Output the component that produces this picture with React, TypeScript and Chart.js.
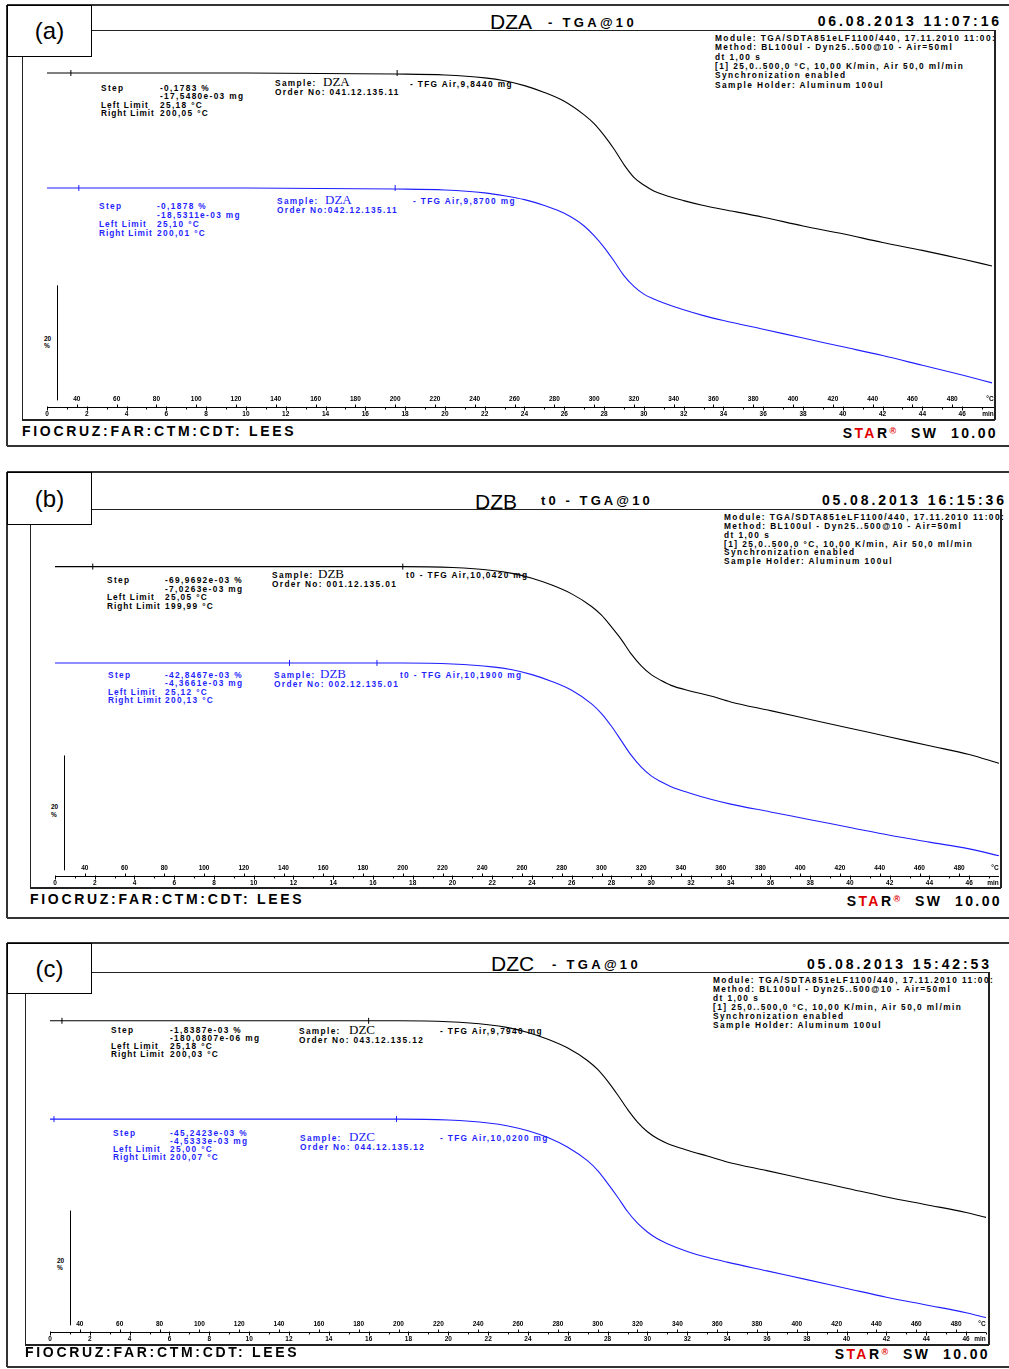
import React, { useEffect, useRef } from "react";
import { Chart, registerables } from "chart.js";
Chart.register(...registerables);

// ---------- data (time in min, mass in %) ----------
const timeAB = [0, 10, 17.5, 20, 22, 23, 24, 25, 26, 27, 27.5, 28, 28.5, 29, 29.5, 30, 30.5, 31, 32, 33, 34, 36, 38, 40, 42, 44, 46, 47.5];
const timeC = [0, 10, 17.5, 20, 22, 23, 24, 25, 26, 27, 27.5, 28, 28.5, 29, 29.5, 30, 30.5, 31, 32, 33, 34, 36, 38, 40, 42, 44, 46, 47];

const dzaBlack = [100, 100, 99.83, 99.66, 99.15, 98.64, 97.8, 96.61, 95.08, 92.71, 91.19, 89.15, 86.78, 84.07, 81.86, 80.51, 79.49, 78.81, 77.8, 76.95, 76.27, 74.92, 73.39, 72.03, 70.51, 69.15, 67.63, 66.44];
const dzaBlue = [80.0, 80.0, 79.83, 79.66, 79.15, 78.64, 77.97, 76.95, 75.59, 73.39, 71.69, 69.66, 67.29, 64.75, 62.88, 61.53, 60.68, 60.0, 58.81, 57.8, 56.95, 55.42, 53.9, 52.37, 50.85, 49.15, 47.46, 46.1];
const dzbBlack = [100, 100, 100, 99.83, 99.32, 98.81, 97.97, 96.78, 95.25, 93.05, 91.53, 89.49, 87.29, 84.75, 82.71, 81.19, 80.17, 79.32, 78.31, 77.46, 76.44, 74.92, 73.39, 71.86, 70.34, 68.81, 67.29, 65.76];
const dzbBlue = [83.22, 83.22, 83.22, 83.05, 82.54, 82.03, 81.19, 80.0, 78.47, 76.1, 74.41, 72.2, 69.66, 67.12, 65.08, 63.56, 62.54, 61.69, 60.51, 59.49, 58.64, 57.29, 55.93, 54.58, 53.22, 52.03, 50.85, 49.66];
const dzcBlack = [100, 100, 100, 99.83, 99.32, 98.81, 97.97, 96.78, 95.25, 93.05, 91.53, 89.49, 87.12, 84.58, 82.37, 80.68, 79.49, 78.64, 77.46, 76.44, 75.42, 73.9, 72.37, 70.85, 69.32, 67.97, 66.61, 65.76];
const dzcBlue = [82.88, 82.88, 82.88, 82.71, 82.2, 81.69, 80.85, 79.66, 77.97, 75.59, 73.9, 71.69, 69.32, 66.78, 64.75, 63.22, 62.03, 61.19, 59.83, 58.81, 57.97, 56.44, 54.92, 53.39, 51.86, 50.51, 49.15, 48.31];

// limit markers on the curves (time, %)
const dzaBlackMarkT = [1.2, 17.6];
const dzaBlackMarkV = [100, 100];
const dzaBlueMarkT = [1.6, 17.5];
const dzaBlueMarkV = [80.0, 80.0];
const dzbBlackMarkT = [1.9, 17.5];
const dzbBlackMarkV = [100, 100];
const dzbBlueMarkT = [11.8, 16.2];
const dzbBlueMarkV = [83.22, 83.22];
const dzcBlackMarkT = [0.6, 16.0];
const dzcBlackMarkV = [100, 100];
const dzcBlueMarkT = [0.2, 17.4];
const dzcBlueMarkV = [82.88, 82.88];

// axis ticks
const timeMajorTicks = [0, 2, 4, 6, 8, 10, 12, 14, 16, 18, 20, 22, 24, 26, 28, 30, 32, 34, 36, 38, 40, 42, 44, 46];
const timeMinorTicks = [1, 3, 5, 7, 9, 11, 13, 15, 17, 19, 21, 23, 25, 27, 29, 31, 33, 35, 37, 39, 41, 43, 45, 47];
const tempTicks = [40, 60, 80, 100, 120, 140, 160, 180, 200, 220, 240, 260, 280, 300, 320, 340, 360, 380, 400, 420, 440, 460, 480];
const scaleBarSpan = 20; // %

// ---------- layout ----------
const PAGE_W = 1009;
const PAGE_H = 1369;
const K = 5.9; // px per %
const SANS = "'Liberation Sans', Arial, Helvetica, sans-serif";
const SERIF = "'Liberation Serif', 'Times New Roman', serif";
const BLUE = "#1f1fff";

const moduleLines = [
  "Module: TGA/SDTA851eLF1100/440, 17.11.2010 11:00:",
  "Method: BL100ul - Dyn25..500@10 - Air=50ml",
  "dt 1,00 s",
  "[1] 25,0..500,0 °C, 10,00 K/min, Air 50,0 ml/min",
  "Synchronization enabled",
  "Sample Holder: Aluminum 100ul",
];

type Curve = { t: number[]; v: number[]; mt: number[]; mv: number[] };

type Cfg = {
  label: string;
  top: number; bottom: number; headerY: number; labelBottom: number;
  innerLeft: number; innerRight: number; innerBottom: number;
  x0: number; x1: number; tMax: number; axisY: number; flatPx: number;
  barT: number; barLow: number;
  black: Curve; blue: Curve;
};

// scale bar (y indicator) and the dual time / temperature axis, positioned through the chart scales
const tgaAxesPlugin = {
  id: "tgaAxes",
  afterDraw(chart: any, _a: any, opts: any) {
    const xs = chart.scales.x;
    const ts = chart.scales.temp;
    const ys = chart.scales.y;
    const ctx = chart.ctx;
    ctx.save();
    ctx.strokeStyle = "#000";
    ctx.fillStyle = "#000";
    ctx.lineWidth = 1;
    // scale bar
    const bx = Math.round(xs.getPixelForValue(opts.barT)) + 0.5;
    ctx.beginPath();
    ctx.moveTo(bx, ys.getPixelForValue(opts.barLow));
    ctx.lineTo(bx, ys.getPixelForValue(opts.barLow + opts.span));
    ctx.stroke();
    // axis line
    const ay = Math.round(opts.axisY) + 0.5;
    const xStart = xs.getPixelForValue(0);
    const xEnd = xs.getPixelForValue(opts.tMax);
    ctx.beginPath();
    ctx.moveTo(xStart, ay);
    ctx.lineTo(xEnd, ay);
    ctx.stroke();
    ctx.font = `bold 6.5px ${SANS}`;
    ctx.textAlign = "center";
    // time ticks + labels (below)
    ctx.textBaseline = "top";
    ctx.beginPath();
    for (const v of timeMajorTicks) {
      const px = Math.round(xs.getPixelForValue(v)) + 0.5;
      ctx.moveTo(px, ay - 1); ctx.lineTo(px, ay + 3);
    }
    for (const v of timeMinorTicks) {
      if (v > opts.tMax) continue;
      const px = Math.round(xs.getPixelForValue(v)) + 0.5;
      ctx.moveTo(px, ay); ctx.lineTo(px, ay + 2);
    }
    ctx.stroke();
    for (const v of timeMajorTicks) ctx.fillText(String(v), xs.getPixelForValue(v), ay + 3.5);
    ctx.fillText("min", xEnd - 6, ay + 3.5);
    // temperature ticks + labels (above)
    ctx.textBaseline = "bottom";
    ctx.beginPath();
    for (const T of tempTicks) {
      const px = Math.round(ts.getPixelForValue(T)) + 0.5;
      ctx.moveTo(px, ay - 3); ctx.lineTo(px, ay);
    }
    ctx.stroke();
    for (const T of tempTicks) ctx.fillText(String(T), ts.getPixelForValue(T), ay - 5);
    ctx.fillText("°C", xEnd - 4, ay - 5);
    ctx.restore();
  },
};

function TgaChart({ cfg }: { cfg: Cfg }) {
  const ref = useRef<HTMLCanvasElement | null>(null);
  const h = cfg.innerBottom - cfg.headerY;
  useEffect(() => {
    if (!ref.current) return;
    const yMax = 100 + (cfg.flatPx - cfg.headerY) / K;
    const yMin = 100 - (cfg.innerBottom - cfg.flatPx) / K;
    const tempMax = 25 + 10 * cfg.tMax;
    const pts = (c: Curve) => c.t.map((t, i) => ({ x: t, y: c.v[i] }));
    const mpts = (c: Curve) => c.mt.map((t, i) => ({ x: t, y: c.mv[i] }));
    const lineDs = (c: Curve, col: string) => ({
      data: pts(c), borderColor: col, borderWidth: 1.1, pointRadius: 0,
      cubicInterpolationMode: "monotone", clip: false, fill: false,
    });
    const markDs = (c: Curve, col: string) => ({
      data: mpts(c), showLine: false, pointStyle: "line", pointRotation: 90,
      pointRadius: 3, pointBorderWidth: 1, pointBorderColor: col, borderColor: col, clip: false,
    });
    const chart = new Chart(ref.current, {
      type: "line",
      data: {
        datasets: [
          lineDs(cfg.black, "#000"), lineDs(cfg.blue, BLUE),
          markDs(cfg.black, "#000"), markDs(cfg.blue, BLUE),
        ] as any,
      },
      options: {
        animation: false,
        responsive: false,
        devicePixelRatio: 1,
        events: [],
        layout: { padding: { left: cfg.x0, right: PAGE_W - cfg.x1, top: 0, bottom: 0 } },
        plugins: {
          legend: { display: false },
          tooltip: { enabled: false },
          tgaAxes: {
            barT: cfg.barT, barLow: cfg.barLow, span: scaleBarSpan,
            axisY: cfg.axisY - cfg.headerY, tMax: cfg.tMax,
          },
        } as any,
        scales: {
          x: { type: "linear", display: false, min: 0, max: cfg.tMax },
          temp: { type: "linear", position: "bottom", display: false, min: 25, max: tempMax },
          y: { type: "linear", display: false, min: yMin, max: yMax },
        } as any,
      },
      plugins: [tgaAxesPlugin],
    });
    return () => chart.destroy();
  }, [cfg]);
  return (
    <canvas
      ref={ref}
      width={PAGE_W}
      height={h}
      style={{ position: "absolute", left: 0, top: cfg.headerY, width: PAGE_W, height: h }}
    />
  );
}

function Txt(p: { x?: number; y: number; s: number; t: React.ReactNode; w?: any; c?: string; ls?: number; f?: string; right?: number }) {
  const style: React.CSSProperties = {
    position: "absolute", top: p.y - p.s / 2, fontSize: p.s, lineHeight: `${p.s}px`,
    fontWeight: p.w ?? "bold", color: p.c ?? "#000", letterSpacing: p.ls ?? 0,
    fontFamily: p.f ?? SANS, whiteSpace: "pre",
  };
  if (p.right !== undefined) { style.right = PAGE_W - p.right; style.textAlign = "right"; }
  else style.left = p.x;
  return <div style={style}>{p.t}</div>;
}

function HLine({ x1, x2, y, w = 1, c = "#222" }: any) {
  return <div style={{ position: "absolute", left: x1, top: y - w / 2, width: x2 - x1, height: w, background: c }} />;
}
function VLine({ x, y1, y2, w = 1, c = "#222" }: any) {
  return <div style={{ position: "absolute", left: x - w / 2, top: y1, width: w, height: y2 - y1, background: c }} />;
}

const SM = 8.3; // small annotation font
const SLS = 1.35;

function StepBlock({ x, xv, y, dy, vals, c }: any) {
  return (
    <>
      <Txt x={x} y={y} s={SM} ls={SLS} c={c} t="Step" />
      <Txt x={xv} y={y} s={SM} ls={SLS} c={c} t={vals[0]} />
      <Txt x={xv} y={y + dy} s={SM} ls={SLS} c={c} t={vals[1]} />
      <Txt x={x} y={y + 2 * dy} s={SM} ls={SLS - 0.3} c={c} t="Left Limit" />
      <Txt x={xv} y={y + 2 * dy} s={SM} ls={SLS} c={c} t={vals[2]} />
      <Txt x={x} y={y + 3 * dy} s={SM} ls={SLS - 0.4} c={c} t="Right Limit" />
      <Txt x={xv} y={y + 3 * dy} s={SM} ls={SLS} c={c} t={vals[3]} />
    </>
  );
}

function SampleBlock({ x, y, name, order, c, nx }: any) {
  return (
    <>
      <Txt x={x} y={y} s={SM} ls={SLS} c={c} t="Sample:" />
      <Txt x={x + (nx ?? 48)} y={y - 2} s={13} w="normal" f={SERIF} c={c} t={name} />
      <Txt x={x} y={y + 9} s={SM} ls={SLS} c={c} t={order} />
    </>
  );
}

function Frame({ cfg }: { cfg: Cfg }) {
  return (
    <>
      <HLine x1={7} x2={PAGE_W} y={cfg.top} w={1.5} c="#333" />
      <HLine x1={7} x2={PAGE_W} y={cfg.bottom} w={1.5} c="#333" />
      <VLine x={7} y1={cfg.top} y2={cfg.bottom} w={1.5} c="#333" />
      <HLine x1={92} x2={cfg.innerRight} y={cfg.headerY} w={1} />
      <VLine x={cfg.innerLeft} y1={cfg.labelBottom} y2={cfg.innerBottom} w={1} />
      <HLine x1={cfg.innerLeft} x2={cfg.innerRight} y={cfg.innerBottom} w={1.2} />
      <VLine x={cfg.innerRight} y1={cfg.headerY} y2={cfg.innerBottom} w={1.2} />
      <div style={{
        position: "absolute", left: 7, top: cfg.top, width: 85, height: cfg.labelBottom - cfg.top,
        boxSizing: "border-box", border: "1.5px solid #000", background: "#fff",
        display: "flex", alignItems: "center", justifyContent: "center",
        fontFamily: SANS, fontSize: 24, color: "#000",
      }}>{cfg.label}</div>
    </>
  );
}

function ModuleBlock({ x, y, lh }: any) {
  return <>{moduleLines.map((l, i) => <Txt key={i} x={x} y={y + i * lh} s={8.3} ls={1.45} t={l} />)}</>;
}

function Star({ right, y }: any) {
  return (
    <Txt right={right} y={y} s={14} ls={2.4} t={
      <>S<span style={{ color: "#e00000" }}>TA</span>R<span style={{ color: "#e00000", fontSize: 9, verticalAlign: "4px" }}>®</span>  SW  10.00</>
    } />
  );
}

const cfgA: Cfg = {
  label: "(a)", top: 5, bottom: 446, headerY: 30, labelBottom: 57,
  innerLeft: 22, innerRight: 995, innerBottom: 420,
  x0: 47, x1: 994, tMax: 47.6, axisY: 407, flatPx: 69,
  barT: 0.5, barLow: 43.05,
  black: { t: timeAB, v: dzaBlack, mt: dzaBlackMarkT, mv: dzaBlackMarkV },
  blue: { t: timeAB, v: dzaBlue, mt: dzaBlueMarkT, mv: dzaBlueMarkV },
};
const cfgB: Cfg = {
  label: "(b)", top: 472, bottom: 918, headerY: 509, labelBottom: 525,
  innerLeft: 30, innerRight: 1001, innerBottom: 888,
  x0: 55, x1: 999, tMax: 47.5, axisY: 876, flatPx: 563,
  barT: 0.45, barLow: 47.12,
  black: { t: timeAB, v: dzbBlack, mt: dzbBlackMarkT, mv: dzbBlackMarkV },
  blue: { t: timeAB, v: dzbBlue, mt: dzbBlueMarkT, mv: dzbBlueMarkV },
};
const cfgC: Cfg = {
  label: "(c)", top: 943, bottom: 1367, headerY: 972, labelBottom: 994,
  innerLeft: 25, innerRight: 989, innerBottom: 1345,
  x0: 50, x1: 986, tMax: 47.0, axisY: 1332, flatPx: 1017,
  barT: 1.0, barLow: 46.95,
  black: { t: timeC, v: dzcBlack, mt: dzcBlackMarkT, mv: dzcBlackMarkV },
  blue: { t: timeC, v: dzcBlue, mt: dzcBlueMarkT, mv: dzcBlueMarkV },
};

export default function App() {
  return (
    <div style={{ position: "relative", width: PAGE_W, height: PAGE_H, background: "#fff", overflow: "hidden" }}>
      <style>{`body{margin:0;background:#fff}`}</style>

      {/* ---------- (a) ---------- */}
      <Frame cfg={cfgA} />
      <Txt x={490} y={21} s={21} w="normal" t="DZA" />
      <Txt x={548} y={22} s={13} ls={3.3} t="- TGA@10" />
      <Txt right={1002} y={21} s={14} ls={2.9} t="06.08.2013 11:07:16" />
      <ModuleBlock x={715} y={38} lh={9.4} />
      <StepBlock x={101} xv={160} y={88} dy={8.4} c="#000" vals={["-0,1783 %", "-17,5480e-03 mg", "25,18 °C", "200,05 °C"]} />
      <SampleBlock x={275} y={83} name="DZA" order="Order No: 041.12.135.11" c="#000" />
      <Txt x={410} y={84} s={SM} ls={SLS} t="- TFG Air,9,8440 mg" />
      <StepBlock x={99} xv={157} y={206} dy={9} c={BLUE} vals={["-0,1878 %", "-18,5311e-03 mg", "25,10 °C", "200,01 °C"]} />
      <SampleBlock x={277} y={201} name="DZA" order="Order No:042.12.135.11" c={BLUE} />
      <Txt x={413} y={201} s={SM} ls={SLS} c={BLUE} t="- TFG Air,9,8700 mg" />
      <Txt x={44} y={339} s={6.5} t="20" />
      <Txt x={44} y={346} s={6.5} t="%" />
      <TgaChart cfg={cfgA} />
      <Txt x={22} y={431} s={14} ls={2.7} t="FIOCRUZ:FAR:CTM:CDT: LEES" />
      <Star right={998} y={431} />

      {/* ---------- (b) ---------- */}
      <Frame cfg={cfgB} />
      <Txt x={475} y={501} s={21} w="normal" t="DZB" />
      <Txt x={541} y={500} s={13} ls={3.1} t="t0 - TGA@10" />
      <Txt right={1007} y={500} s={14} ls={2.9} t="05.08.2013 16:15:36" />
      <ModuleBlock x={724} y={517} lh={8.9} />
      <StepBlock x={107} xv={165} y={580} dy={8.7} c="#000" vals={["-69,9692e-03 %", "-7,0263e-03 mg", "25,05 °C", "199,99 °C"]} />
      <SampleBlock x={272} y={575} name="DZB" order="Order No: 001.12.135.01" c="#000" nx={46} />
      <Txt x={406} y={575} s={SM} ls={SLS} t="t0 - TFG Air,10,0420 mg" />
      <StepBlock x={108} xv={165} y={675} dy={8.4} c={BLUE} vals={["-42,8467e-03 %", "-4,3661e-03 mg", "25,12 °C", "200,13 °C"]} />
      <SampleBlock x={274} y={675} name="DZB" order="Order No: 002.12.135.01" c={BLUE} nx={46} />
      <Txt x={400} y={675} s={SM} ls={SLS} c={BLUE} t="t0 - TFG Air,10,1900 mg" />
      <Txt x={51} y={807} s={6.5} t="20" />
      <Txt x={51} y={815} s={6.5} t="%" />
      <TgaChart cfg={cfgB} />
      <Txt x={30} y={899} s={14} ls={2.7} t="FIOCRUZ:FAR:CTM:CDT: LEES" />
      <Star right={1002} y={899} />

      {/* ---------- (c) ---------- */}
      <Frame cfg={cfgC} />
      <Txt x={491} y={963} s={21} w="normal" t="DZC" />
      <Txt x={552} y={964} s={13} ls={3.3} t="- TGA@10" />
      <Txt right={992} y={964} s={14} ls={2.9} t="05.08.2013 15:42:53" />
      <ModuleBlock x={713} y={980} lh={9} />
      <StepBlock x={111} xv={170} y={1030} dy={8} c="#000" vals={["-1,8387e-03 %", "-180,0807e-06 mg", "25,18 °C", "200,03 °C"]} />
      <SampleBlock x={299} y={1031} name="DZC" order="Order No: 043.12.135.12" c="#000" nx={50} />
      <Txt x={440} y={1031} s={SM} ls={SLS} t="- TFG Air,9,7940 mg" />
      <StepBlock x={113} xv={170} y={1133} dy={8} c={BLUE} vals={["-45,2423e-03 %", "-4,5333e-03 mg", "25,00 °C", "200,07 °C"]} />
      <SampleBlock x={300} y={1138} name="DZC" order="Order No: 044.12.135.12" c={BLUE} nx={49} />
      <Txt x={440} y={1138} s={SM} ls={SLS} c={BLUE} t="- TFG Air,10,0200 mg" />
      <Txt x={57} y={1261} s={6.5} t="20" />
      <Txt x={57} y={1268} s={6.5} t="%" />
      <TgaChart cfg={cfgC} />
      <Txt x={25} y={1352} s={14} ls={2.7} t="FIOCRUZ:FAR:CTM:CDT: LEES" />
      <Star right={990} y={1352} />
    </div>
  );
}
